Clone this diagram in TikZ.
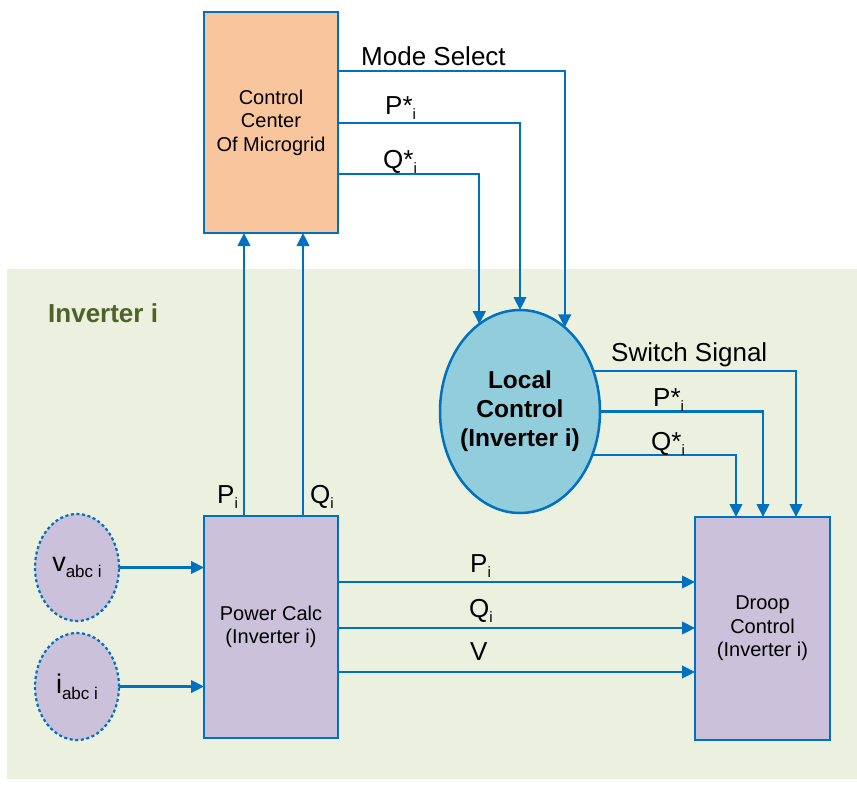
\documentclass[tikz,border=0pt]{standalone}
\usepackage{fontspec}
\setmainfont{Liberation Sans}
\usetikzlibrary{arrows.meta,shapes.geometric}
\definecolor{lineblue}{HTML}{0070C0}
\definecolor{peach}{HTML}{F8C59C}
\definecolor{lavender}{HTML}{CCC1DA}
\definecolor{skyfill}{HTML}{92CDDC}
\definecolor{panelgreen}{HTML}{EBF1DE}
\definecolor{darkgreen}{HTML}{4F6228}
% small lowered index text
\newcommand{\sbt}[2][15]{\raisebox{-0.22em}{\fontsize{#1}{#1}\selectfont #2}}
\begin{document}
\begin{tikzpicture}[x=1pt,y=-1pt,
  box/.style={draw=lineblue, line width=2.7pt, rectangle, inner sep=0pt, outer sep=0pt,
    align=center, font=\fontsize{20}{23.5}\selectfont},
  inputbubble/.style={ellipse, draw=lineblue, fill=lavender, line width=2.2pt,
    dash pattern=on 3pt off 2.6pt, inner sep=0pt, outer sep=0pt,
    minimum width=84pt, minimum height=107pt, font=\fontsize{27}{27}\selectfont},
  wire/.style={lineblue, line width=2.4pt},
  arr/.style={wire, -{Triangle[length=13pt,width=12.5pt]}},
  lbl/.style={font=\fontsize{26}{26}\selectfont, inner sep=0pt, anchor=base west},
]
\useasboundingbox (0,0) rectangle (857,785);

% inverter panel
\fill[panelgreen] (7,269) rectangle (857,779);
\node[anchor=base west, inner sep=0pt, text=darkgreen,
  font=\fontsize{26}{26}\selectfont\bfseries] (title) at (48,322) {Inverter i};

% blocks
\node[box, fill=peach, minimum width=134pt, minimum height=221pt] (cc) at (271,122.5)
  {Control\\Center\\Of Microgrid};
\node[box, fill=lavender, minimum width=134pt, minimum height=222pt] (pc) at (271,627)
  {Power Calc\\(Inverter i)};
\node[box, fill=lavender, minimum width=135pt, minimum height=223pt] (dc) at (762.5,628.5)
  {Droop\\Control\\(Inverter i)};
\node[ellipse, draw=lineblue, fill=skyfill, line width=2.5pt, inner ysep=0pt, inner xsep=-12pt,
  outer sep=0pt, minimum width=160pt, minimum height=203pt, align=center,
  font=\fontsize{24.5}{29}\selectfont\bfseries] (lc) at (520,411.5)
  {Local\\Control\\(Inverter i)};
\node[inputbubble] (va) at (77,567.5) {v\sbt[17]{abc i}};
\node[inputbubble] (ia) at (77,686.5) {i\sbt[17]{abc i}};

% commands from the control center
\draw[arr] ([yshift=-59pt]cc.north east) -| (lc.62.6);
\draw[arr] ([yshift=-111pt]cc.north east) -| (lc.north);
\draw[arr] ([yshift=-162pt]cc.north east) -| (lc.115.2);
\node[lbl] (lmode) at (361,65) {Mode Select};
\node[lbl] (lpc) at (385,114) {P*\sbt{i}};
\node[lbl] (lqc) at (383,168) {Q*\sbt{i}};

% local control to droop control
\draw[arr] (lc.29.6) -| ([xshift=101pt]dc.north west);
\draw[arr] (lc.east) -| ([xshift=68pt]dc.north west);
\draw[arr] (lc.-31) -| ([xshift=41pt]dc.north west);
\node[lbl] (lsw) at (611,361) {Switch Signal};
\node[lbl] (lpl) at (653,406) {P*\sbt{i}};
\node[lbl] (lql) at (651,450) {Q*\sbt{i}};

% measured powers up to the control center
\draw[arr] ([xshift=40pt]pc.north west) -- ([xshift=40pt]cc.south west);
\draw[arr] ([xshift=99pt]pc.north west) -- ([xshift=99pt]cc.south west);
\node[lbl] (lpu) at (217,503) {P\sbt{i}};
\node[lbl] (lqu) at (310,503) {Q\sbt{i}};

% inputs to power calculation
\draw[arr] (va.east) -- (va.east -| pc.west);
\draw[arr] (ia.east) -- (ia.east -| pc.west);

% power calc to droop control
\coordinate (o1) at ([yshift=-66pt]pc.north east);
\coordinate (o2) at ([yshift=-112pt]pc.north east);
\coordinate (o3) at ([yshift=-156pt]pc.north east);
\draw[arr] (o1) -- (o1 -| dc.west);
\draw[arr] (o2) -- (o2 -| dc.west);
\draw[arr] (o3) -- (o3 -| dc.west);
\node[lbl] (lpm) at (470,572) {P\sbt{i}};
\node[lbl] (lqm) at (469,617) {Q\sbt{i}};
\node[lbl] (lvm) at (470,660) {V};
\end{tikzpicture}
\end{document}
